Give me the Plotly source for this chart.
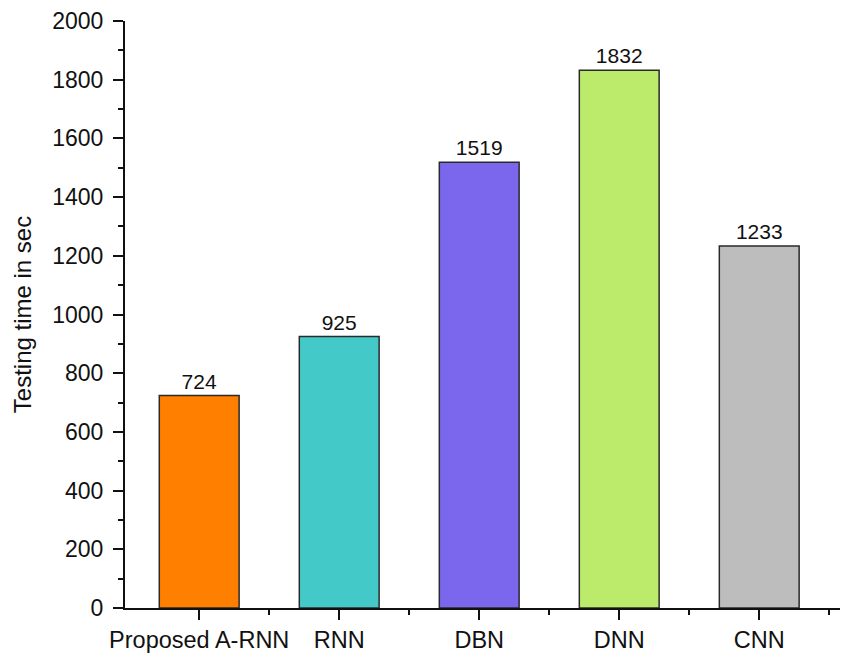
import plotly.graph_objects as go

categories = ["Proposed A-RNN", "RNN", "DBN", "DNN", "CNN"]
values = [724, 925, 1519, 1832, 1233]
colors = ["#FF7F00", "#44C9C9", "#7B66EE", "#BCEB6B", "#BDBDBD"]
y_ticks = [0, 200, 400, 600, 800, 1000, 1200, 1400, 1600, 1800, 2000]

xs = list(range(len(categories)))

fig = go.Figure()
fig.add_trace(go.Bar(
    x=xs, y=values,
    marker=dict(color=colors, line=dict(color="#2a2a2a", width=1.5)),
    width=0.57,
    text=[str(v) for v in values],
    textposition="outside",
    textfont=dict(family="Arial, Liberation Sans", size=21, color="#111"),
    cliponaxis=False,
))

# page body has an 8px default margin, so the figure is sized to fit the window
fig.update_layout(
    width=840, height=647,
    margin=dict(l=117, r=0, t=13, b=47),
    paper_bgcolor="white", plot_bgcolor="white",
    showlegend=False,
    font=dict(family="Arial, Liberation Sans", color="#111"),
)
fig.update_xaxes(
    automargin=False,
    range=[-0.53, 4.634],
    tickmode="array", tickvals=xs, ticktext=categories,
    tickfont=dict(size=23.5, color="#111"),
    showline=True, linecolor="#111", linewidth=2,
    ticks="outside", ticklen=10, tickwidth=2, tickcolor="#111",
    minor=dict(tickmode="array", tickvals=[0.5, 1.5, 2.5, 3.5, 4.5],
               ticks="outside", ticklen=5, tickwidth=2, tickcolor="#111"),
    showgrid=False, zeroline=False,
)
fig.update_yaxes(
    automargin=False,
    range=[0, 2000],
    tickmode="array", tickvals=y_ticks,
    tickfont=dict(size=23, color="#111"),
    ticklabelstandoff=5,
    showline=True, linecolor="#111", linewidth=2,
    ticks="outside", ticklen=10, tickwidth=2, tickcolor="#111",
    minor=dict(dtick=100, tick0=0, ticks="outside", ticklen=5, tickwidth=2, tickcolor="#111"),
    showgrid=False, zeroline=False,
    title=dict(text="Testing time in sec", font=dict(size=24, color="#111"), standoff=14),
)

fig.write_html("out.html")
